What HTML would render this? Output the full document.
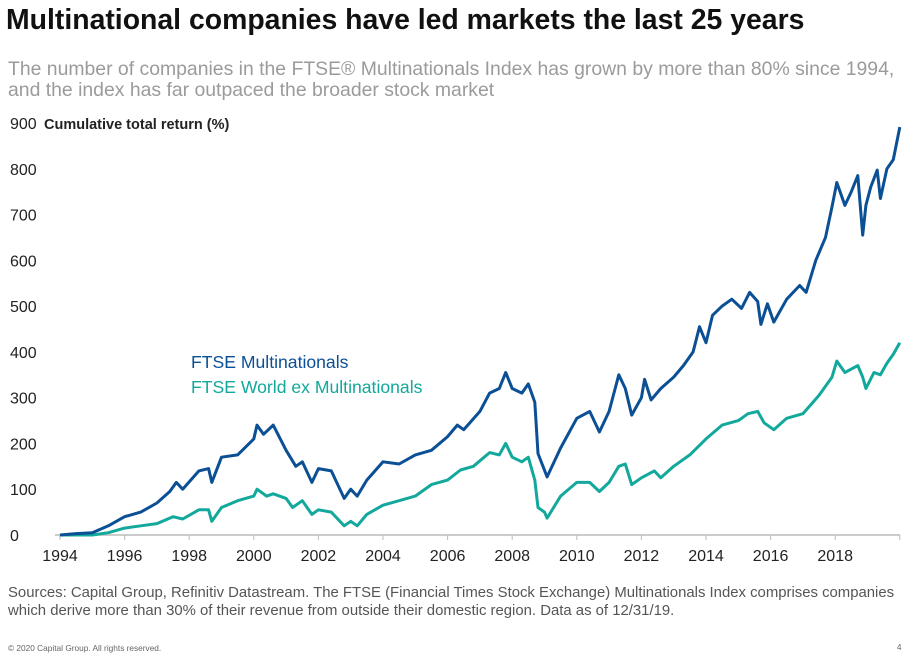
<!DOCTYPE html>
<html><head><meta charset="utf-8"><style>
body{margin:0;width:910px;height:655px;background:#fff;font-family:"Liberation Sans",sans-serif;position:relative;overflow:hidden}
.t{position:absolute;white-space:nowrap}
</style></head><body>
<div class="t" style="left:6px;top:4px;font-size:28.4px;font-weight:bold;color:#111">Multinational companies have led markets the last 25 years</div>
<div class="t" style="left:8px;top:59px;font-size:19.4px;color:#9b9b9b;line-height:21px">The number of companies in the FTSE® Multinationals Index has grown by more than 80% since 1994,<br>and the index has far outpaced the broader stock market</div>
<svg id="chart" width="910" height="580" style="position:absolute;left:0;top:0"></svg>
<div class="t" style="left:8px;top:584px;font-size:14.9px;color:#555;line-height:18px">Sources: Capital Group, Refinitiv Datastream. The FTSE (Financial Times Stock Exchange) Multinationals Index comprises companies<br>which derive more than 30% of their revenue from outside their domestic region. Data as of 12/31/19.</div>
<div class="t" style="left:8px;top:643px;font-size:8.3px;color:#666">© 2020 Capital Group. All rights reserved.</div>
<div class="t" style="left:897px;top:643px;font-size:8px;color:#666">4</div>
<script>
const yTicks=[0,100,200,300,400,500,600,700,800,900];
const xTicks=[1994,1996,1998,2000,2002,2004,2006,2008,2010,2012,2014,2016,2018];
const multiYears=[1994,1994.5,1995,1995.5,1996,1996.5,1997,1997.4,1997.6,1997.8,1998.3,1998.6,1998.7,1999,1999.5,2000,2000.1,2000.3,2000.6,2001,2001.3,2001.5,2001.8,2002,2002.4,2002.8,2003,2003.2,2003.5,2004,2004.5,2005,2005.5,2006,2006.3,2006.5,2007,2007.3,2007.6,2007.8,2008,2008.3,2008.5,2008.7,2008.8,2009.08,2009.5,2010,2010.4,2010.7,2011,2011.3,2011.5,2011.7,2012,2012.1,2012.3,2012.6,2013,2013.3,2013.6,2013.8,2014,2014.2,2014.5,2014.8,2015.1,2015.35,2015.6,2015.7,2015.9,2016.1,2016.5,2016.9,2017.1,2017.4,2017.7,2017.9,2018.05,2018.3,2018.5,2018.7,2018.85,2018.95,2019.1,2019.3,2019.4,2019.6,2019.8,2020];
const multiVals=[0,3,5,20,40,50,70,95,115,100,140,145,115,170,175,210,240,220,240,185,150,160,115,145,140,80,100,85,120,160,155,175,185,215,240,230,270,310,320,355,320,310,330,290,178,127,190,255,270,225,270,350,320,262,300,340,295,320,345,370,400,455,420,480,500,515,495,530,510,460,505,465,515,545,530,600,650,717,770,720,750,785,655,720,760,797,735,800,820,891];
const worldYears=[1994,1995,1995.5,1996,1996.5,1997,1997.5,1997.8,1998.3,1998.6,1998.7,1999,1999.5,2000,2000.1,2000.4,2000.6,2001,2001.2,2001.5,2001.8,2002,2002.4,2002.8,2003,2003.2,2003.5,2004,2004.5,2005,2005.5,2006,2006.4,2006.8,2007.3,2007.6,2007.8,2008,2008.3,2008.5,2008.7,2008.8,2009,2009.08,2009.5,2010,2010.4,2010.7,2011,2011.3,2011.5,2011.7,2012,2012.4,2012.6,2013,2013.5,2014,2014.5,2015,2015.3,2015.6,2015.8,2016.1,2016.5,2017,2017.5,2017.9,2018.05,2018.3,2018.7,2018.85,2018.95,2019.2,2019.4,2019.6,2019.8,2020];
const worldVals=[0,0,5,15,20,25,40,35,55,55,30,60,75,85,100,85,90,80,60,75,45,55,50,20,30,20,45,65,75,85,110,120,142,150,180,175,200,170,160,170,120,60,50,37,85,115,115,95,115,150,155,110,125,140,125,150,175,210,240,250,265,270,245,230,255,265,305,345,380,355,370,345,320,355,350,375,395,420];
const NS='http://www.w3.org/2000/svg';
const svg=document.getElementById('chart');
const X=y=>60+(y-1994)*32.3, Y=v=>535-v*0.4578;
function mk(t,a){const e=document.createElementNS(NS,t);for(const k in a)e.setAttribute(k,a[k]);svg.appendChild(e);return e;}
const ax=mk('line',{x1:55,x2:900,y1:535,y2:535,stroke:'#bbb','stroke-width':1.5});


yTicks.forEach(v=>{const t=mk('text',{x:10,y:Y(v)+6,'font-size':16,fill:'#222','font-family':'Liberation Sans'});t.textContent=v;

});
const yt=mk('text',{x:44,y:129,'font-size':14.5,'font-weight':'bold',fill:'#222','font-family':'Liberation Sans'});yt.textContent='Cumulative total return (%)';


xTicks.concat([2020]).forEach(y=>{const l=mk('line',{x1:X(y),x2:X(y),y1:535,y2:540,stroke:'#bbb'});

});
xTicks.forEach(y=>{const t=mk('text',{x:X(y),y:561,'font-size':16,fill:'#222','text-anchor':'middle','font-family':'Liberation Sans'});t.textContent=y;

});
function line(ys,vs,c,name){const d=ys.map((y,i)=>(i?'L':'M')+X(y).toFixed(1)+','+Y(vs[i]).toFixed(1)).join('');
const p=mk('path',{d:d,fill:'none',stroke:c,'stroke-width':3,'stroke-linejoin':'round'});

}
line(worldYears,worldVals,'#12a89b','world-ex-multinationals-line');
line(multiYears,multiVals,'#0b4f94','multinationals-line');
const l1=mk('text',{x:191,y:368,'font-size':17.6,fill:'#0b4f94','font-family':'Liberation Sans'});l1.textContent='FTSE Multinationals';


const l2=mk('text',{x:191,y:393,'font-size':17.6,fill:'#12a89b','font-family':'Liberation Sans'});l2.textContent='FTSE World ex Multinationals';


</script>
</body></html>
